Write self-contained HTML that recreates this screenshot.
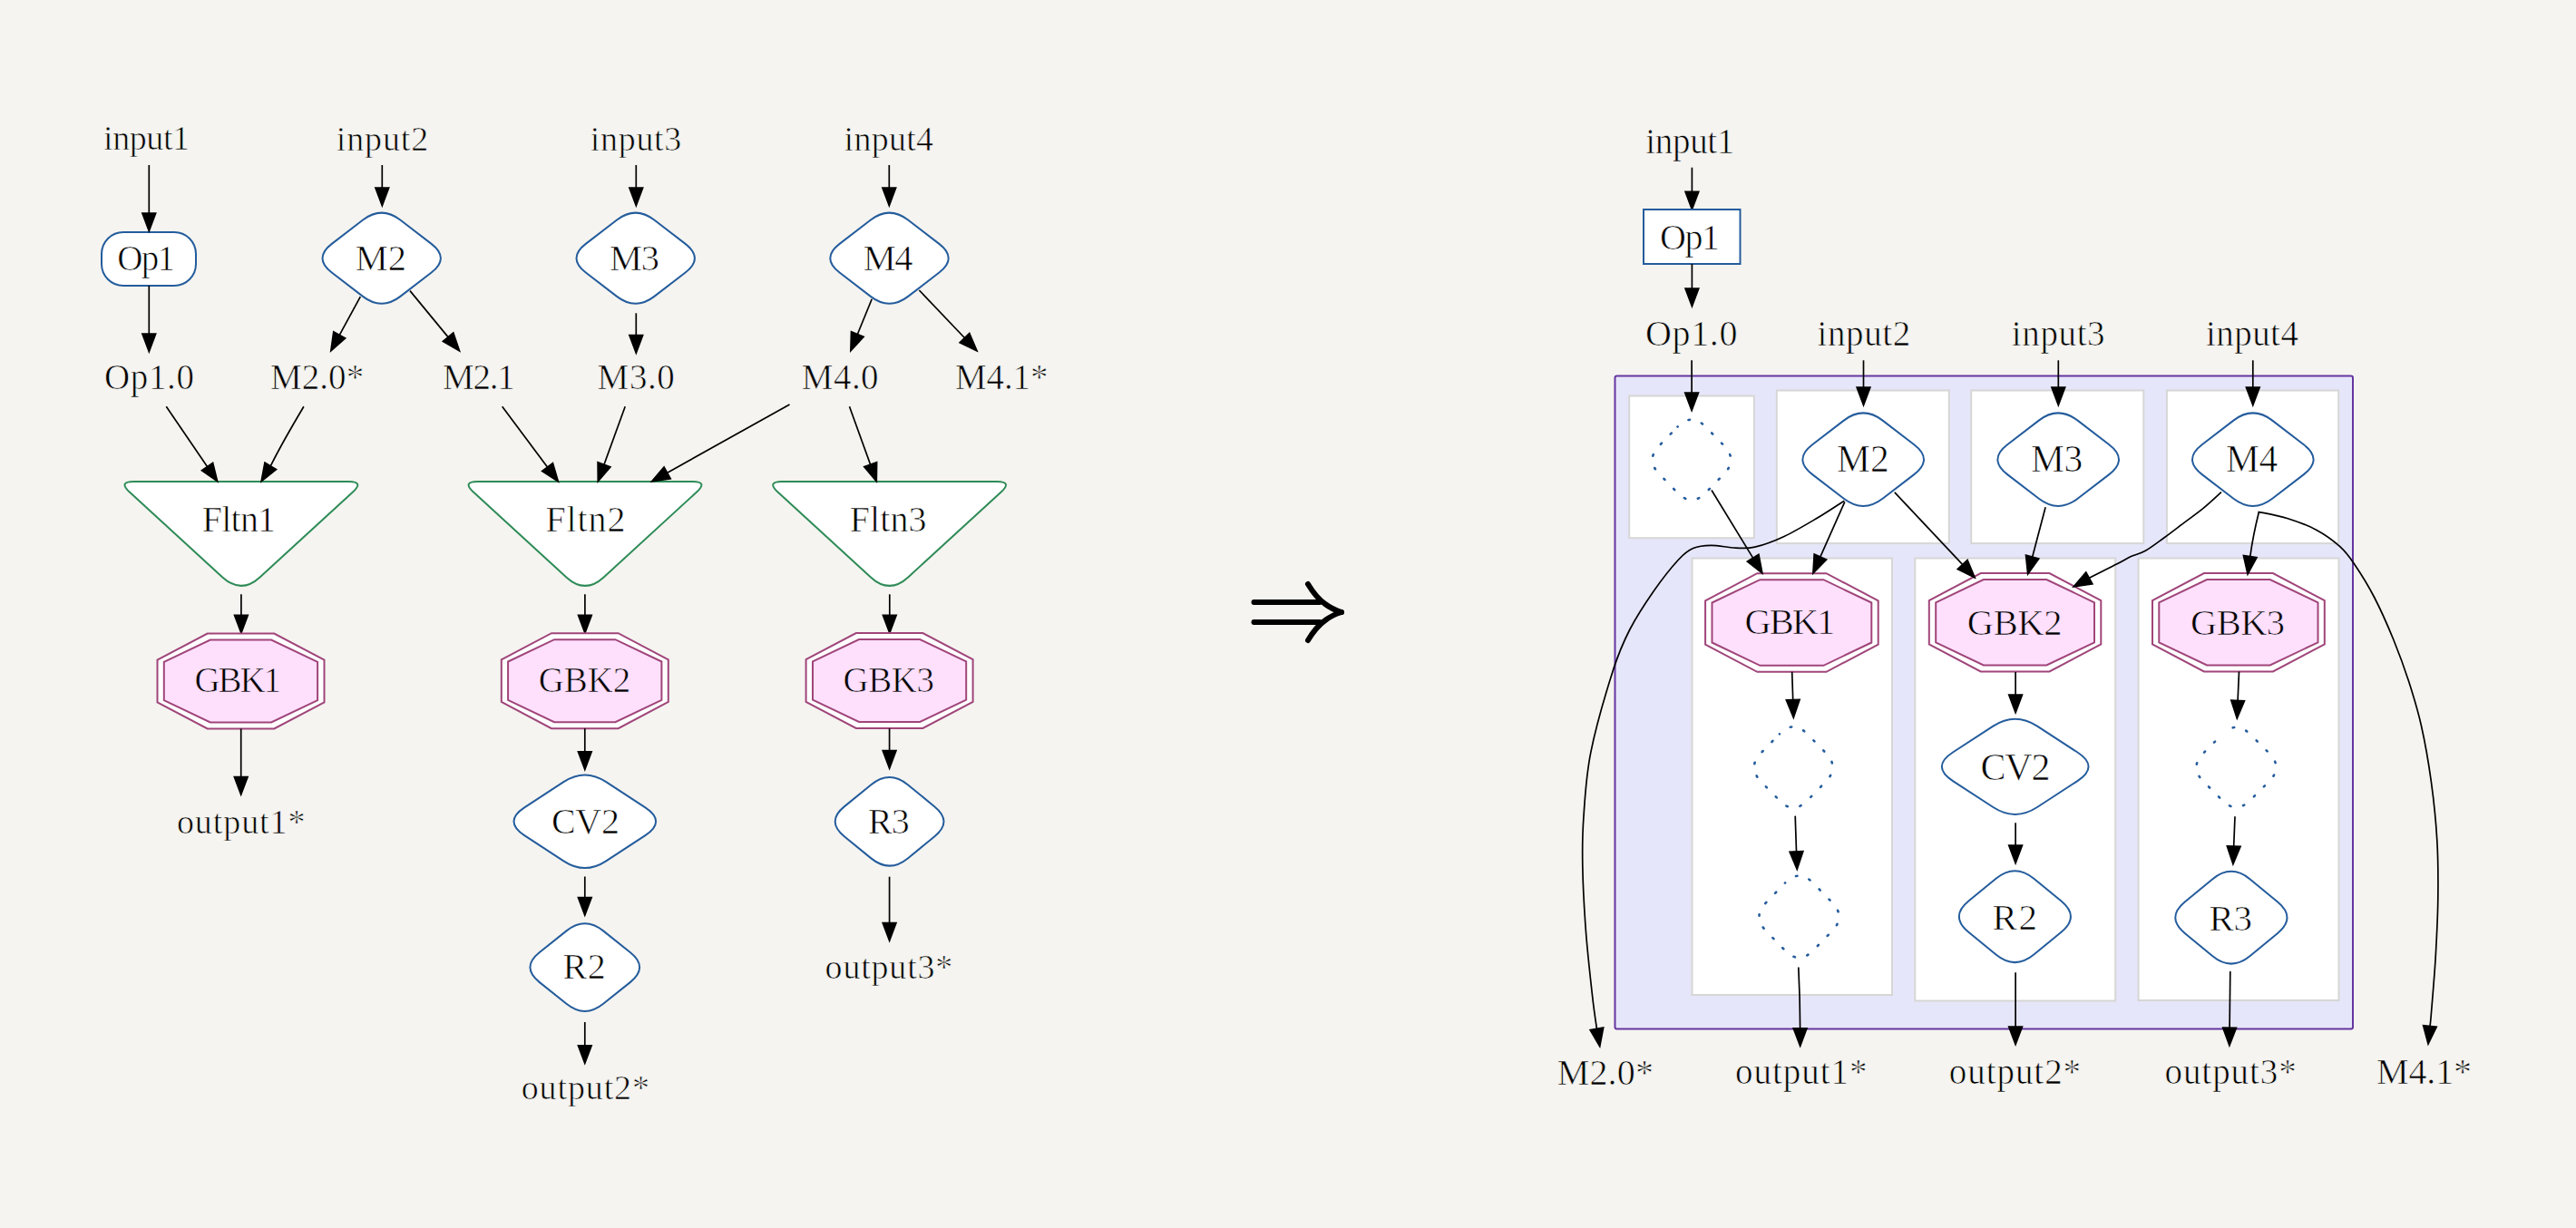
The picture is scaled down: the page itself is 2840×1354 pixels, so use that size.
<!DOCTYPE html><html><head><meta charset="utf-8"><style>html,body{margin:0;padding:0;background:#f5f4f0;}svg{display:block}</style></head><body>
<svg width="2840" height="1354" viewBox="0 0 2840 1354" font-family="Liberation Serif, serif" fill="#000">
<rect width="2840" height="1354" fill="#f5f4f0"/>
<rect x="112" y="256" width="104" height="59" rx="24" ry="24" fill="#fff" stroke="#245c9c" stroke-width="2"/>
<path d="M400.1,242.5 Q420.7,226.7 441.3,242.5 L475.6,268.9 Q496.2,284.7 475.6,300.5 L441.3,326.9 Q420.7,342.7 400.1,326.9 L365.8,300.5 Q345.2,284.7 365.8,268.9 Z" fill="#fff" stroke="#245c9c" stroke-width="2.0"/>
<path d="M680.1,242.5 Q700.7,226.7 721.3,242.5 L755.6,268.9 Q776.2,284.7 755.6,300.5 L721.3,326.9 Q700.7,342.7 680.1,326.9 L645.8,300.5 Q625.2,284.7 645.8,268.9 Z" fill="#fff" stroke="#245c9c" stroke-width="2.0"/>
<path d="M959.9,242.5 Q980.5,226.7 1001.1,242.5 L1035.4,268.9 Q1056.0,284.7 1035.4,300.5 L1001.1,326.9 Q980.5,342.7 959.9,326.9 L925.6,300.5 Q905.0,284.7 925.6,268.9 Z" fill="#fff" stroke="#245c9c" stroke-width="2.0"/>
<path d="M164.3,255.0 L156.8,235.0 L171.8,235.0 Z" fill="#000" stroke="#000" stroke-width="1.5" stroke-linejoin="miter"/>
<line x1="164.3" y1="182.0" x2="164.3" y2="235.0" stroke="#000" stroke-width="1.7"/>
<path d="M421.3,227.0 L413.8,207.0 L428.8,207.0 Z" fill="#000" stroke="#000" stroke-width="1.5" stroke-linejoin="miter"/>
<line x1="421.3" y1="182.0" x2="421.3" y2="207.0" stroke="#000" stroke-width="1.7"/>
<path d="M701.3,227.0 L693.8,207.0 L708.8,207.0 Z" fill="#000" stroke="#000" stroke-width="1.5" stroke-linejoin="miter"/>
<line x1="701.3" y1="182.0" x2="701.3" y2="207.0" stroke="#000" stroke-width="1.7"/>
<path d="M980.3,227.0 L972.8,207.0 L987.8,207.0 Z" fill="#000" stroke="#000" stroke-width="1.5" stroke-linejoin="miter"/>
<line x1="980.3" y1="182.0" x2="980.3" y2="207.0" stroke="#000" stroke-width="1.7"/>
<path d="M164.3,388.0 L156.8,368.0 L171.8,368.0 Z" fill="#000" stroke="#000" stroke-width="1.5" stroke-linejoin="miter"/>
<line x1="164.3" y1="315.0" x2="164.3" y2="368.0" stroke="#000" stroke-width="1.7"/>
<path d="M364.7,387.0 L367.7,365.8 L380.8,373.0 Z" fill="#000" stroke="#000" stroke-width="1.5" stroke-linejoin="miter"/>
<line x1="397.3" y1="327.1" x2="374.3" y2="369.4" stroke="#000" stroke-width="1.7"/>
<path d="M506.7,387.0 L488.2,376.3 L499.8,366.8 Z" fill="#000" stroke="#000" stroke-width="1.5" stroke-linejoin="miter"/>
<line x1="452.0" y1="320.6" x2="494.0" y2="371.6" stroke="#000" stroke-width="1.7"/>
<path d="M701.3,389.6 L693.8,369.6 L708.8,369.6 Z" fill="#000" stroke="#000" stroke-width="1.5" stroke-linejoin="miter"/>
<line x1="701.3" y1="345.3" x2="701.3" y2="369.6" stroke="#000" stroke-width="1.7"/>
<path d="M937.8,387.0 L938.4,365.6 L952.3,371.3 Z" fill="#000" stroke="#000" stroke-width="1.5" stroke-linejoin="miter"/>
<line x1="961.2" y1="329.7" x2="945.4" y2="368.5" stroke="#000" stroke-width="1.7"/>
<path d="M1077.2,387.0 L1058.0,377.7 L1068.8,367.3 Z" fill="#000" stroke="#000" stroke-width="1.5" stroke-linejoin="miter"/>
<line x1="1013.4" y1="320.0" x2="1063.4" y2="372.5" stroke="#000" stroke-width="1.7"/>
<path d="M142.8,542.5 Q130.3,531.0 147.3,531.0 L384.5,531.0 Q401.5,531.0 389.0,542.5 L286.5,636.4 Q265.9,655.3 245.3,636.4 Z" fill="#fff" stroke="#2e8b57" stroke-width="2"/>
<path d="M521.9,542.5 Q509.4,531.0 526.4,531.0 L763.6,531.0 Q780.6,531.0 768.1,542.5 L665.6,636.4 Q645.0,655.3 624.4,636.4 Z" fill="#fff" stroke="#2e8b57" stroke-width="2"/>
<path d="M857.5,542.5 Q845.0,531.0 862.0,531.0 L1099.2,531.0 Q1116.2,531.0 1103.7,542.5 L1001.2,636.4 Q980.6,655.3 960.0,636.4 Z" fill="#fff" stroke="#2e8b57" stroke-width="2"/>
<path d="M239.8,531.0 L222.3,518.7 L234.7,510.3 Z" fill="#000" stroke="#000" stroke-width="1.5" stroke-linejoin="miter"/>
<line x1="183.3" y1="448.2" x2="228.5" y2="514.5" stroke="#000" stroke-width="1.7"/>
<path d="M334.9,448.2 Q310,490 298.5,513.5" fill="none" stroke="#000" stroke-width="1.7"/>
<path d="M288.0,531.0 L291.9,510.0 L304.7,517.7 Z" fill="#000" stroke="#000" stroke-width="1.5" stroke-linejoin="miter"/>
<path d="M615.5,531.0 L597.5,519.5 L609.5,510.5 Z" fill="#000" stroke="#000" stroke-width="1.5" stroke-linejoin="miter"/>
<line x1="553.7" y1="448.2" x2="603.5" y2="515.0" stroke="#000" stroke-width="1.7"/>
<path d="M659.2,531.0 L659.0,509.6 L673.1,514.8 Z" fill="#000" stroke="#000" stroke-width="1.5" stroke-linejoin="miter"/>
<line x1="689.2" y1="448.2" x2="666.0" y2="512.2" stroke="#000" stroke-width="1.7"/>
<path d="M718.3,531.0 L732.1,514.7 L739.4,527.8 Z" fill="#000" stroke="#000" stroke-width="1.5" stroke-linejoin="miter"/>
<line x1="870.5" y1="446.0" x2="735.8" y2="521.2" stroke="#000" stroke-width="1.7"/>
<path d="M966.4,531.0 L952.6,514.7 L966.7,509.6 Z" fill="#000" stroke="#000" stroke-width="1.5" stroke-linejoin="miter"/>
<line x1="936.5" y1="448.2" x2="959.6" y2="512.2" stroke="#000" stroke-width="1.7"/>
<path d="M265.9,698.3 L258.4,678.3 L273.4,678.3 Z" fill="#000" stroke="#000" stroke-width="1.5" stroke-linejoin="miter"/>
<line x1="265.9" y1="655.3" x2="265.9" y2="678.3" stroke="#000" stroke-width="1.7"/>
<path d="M644.9,698.3 L637.4,678.3 L652.4,678.3 Z" fill="#000" stroke="#000" stroke-width="1.5" stroke-linejoin="miter"/>
<line x1="644.9" y1="655.3" x2="644.9" y2="678.3" stroke="#000" stroke-width="1.7"/>
<path d="M980.8,698.3 L973.3,678.3 L988.3,678.3 Z" fill="#000" stroke="#000" stroke-width="1.5" stroke-linejoin="miter"/>
<line x1="980.8" y1="655.3" x2="980.8" y2="678.3" stroke="#000" stroke-width="1.7"/>
<polygon points="228.7,698.5 302.3,698.5 357.5,727.7 357.5,774.3 302.3,803.5 228.7,803.5 173.5,774.3 173.5,727.7" fill="#fff" stroke="#a0457a" stroke-width="2"/>
<polygon points="231.8,705.5 299.1,705.5 350.1,729.8 350.1,772.2 299.1,796.5 231.8,796.5 180.8,772.2 180.8,729.8" fill="#fee0fd" stroke="#a0457a" stroke-width="2"/>
<polygon points="608.0,698.2 681.6,698.2 736.8,727.4 736.8,774.0 681.6,803.2 608.0,803.2 552.8,774.0 552.8,727.4" fill="#fff" stroke="#a0457a" stroke-width="2"/>
<polygon points="611.1,705.2 678.4,705.2 729.4,729.5 729.4,771.9 678.4,796.2 611.1,796.2 560.1,771.9 560.1,729.5" fill="#fee0fd" stroke="#a0457a" stroke-width="2"/>
<polygon points="943.8,698.0 1017.4,698.0 1072.6,727.2 1072.6,773.8 1017.4,803.0 943.8,803.0 888.6,773.8 888.6,727.2" fill="#fff" stroke="#a0457a" stroke-width="2"/>
<polygon points="947.0,705.0 1014.2,705.0 1065.2,729.3 1065.2,771.7 1014.2,796.0 947.0,796.0 896.0,771.7 896.0,729.3" fill="#fee0fd" stroke="#a0457a" stroke-width="2"/>
<path d="M265.7,876.4 L258.2,856.4 L273.2,856.4 Z" fill="#000" stroke="#000" stroke-width="1.5" stroke-linejoin="miter"/>
<line x1="265.7" y1="803.5" x2="265.7" y2="856.4" stroke="#000" stroke-width="1.7"/>
<path d="M644.8,848.8 L637.3,828.8 L652.3,828.8 Z" fill="#000" stroke="#000" stroke-width="1.5" stroke-linejoin="miter"/>
<line x1="644.8" y1="803.2" x2="644.8" y2="828.8" stroke="#000" stroke-width="1.7"/>
<path d="M621.4,862.2 Q644.8,846.8 668.2,862.2 L711.4,890.4 Q734.8,905.8 711.4,921.2 L668.2,949.4 Q644.8,964.8 621.4,949.4 L578.2,921.2 Q554.8,905.8 578.2,890.4 Z" fill="#fff" stroke="#245c9c" stroke-width="2.0"/>
<path d="M644.8,1009.4 L637.3,989.4 L652.3,989.4 Z" fill="#000" stroke="#000" stroke-width="1.5" stroke-linejoin="miter"/>
<line x1="644.8" y1="966.5" x2="644.8" y2="989.4" stroke="#000" stroke-width="1.7"/>
<path d="M624.5,1026.4 Q644.8,1010.1 665.1,1026.4 L695.0,1050.3 Q715.3,1066.6 695.0,1082.9 L665.1,1106.8 Q644.8,1123.1 624.5,1106.8 L594.6,1082.9 Q574.3,1066.6 594.6,1050.3 Z" fill="#fff" stroke="#245c9c" stroke-width="2.0"/>
<path d="M644.8,1172.7 L637.3,1152.7 L652.3,1152.7 Z" fill="#000" stroke="#000" stroke-width="1.5" stroke-linejoin="miter"/>
<line x1="644.8" y1="1127.0" x2="644.8" y2="1152.7" stroke="#000" stroke-width="1.7"/>
<path d="M980.6,847.6 L973.1,827.6 L988.1,827.6 Z" fill="#000" stroke="#000" stroke-width="1.5" stroke-linejoin="miter"/>
<line x1="980.6" y1="803.2" x2="980.6" y2="827.6" stroke="#000" stroke-width="1.7"/>
<path d="M960.4,865.2 Q980.6,848.8 1000.8,865.2 L1030.4,889.4 Q1050.6,905.8 1030.4,922.2 L1000.8,946.4 Q980.6,962.8 960.4,946.4 L930.8,922.2 Q910.6,905.8 930.8,889.4 Z" fill="#fff" stroke="#245c9c" stroke-width="2.0"/>
<path d="M980.6,1037.5 L973.1,1017.5 L988.1,1017.5 Z" fill="#000" stroke="#000" stroke-width="1.5" stroke-linejoin="miter"/>
<line x1="980.6" y1="966.7" x2="980.6" y2="1017.5" stroke="#000" stroke-width="1.7"/>
<g stroke="#000" stroke-width="6" stroke-linecap="round" fill="none">
<path d="M1382.5,664 L1455,664 M1382.5,686 L1455,686"/>
<path d="M1442,644 Q1451,659 1461,666 Q1469,672 1479,675"/>
<path d="M1442,706 Q1451,691 1461,684 Q1469,678 1479,675"/>
</g>
<path d="M1865.4,231.2 L1857.9,211.2 L1872.9,211.2 Z" fill="#000" stroke="#000" stroke-width="1.5" stroke-linejoin="miter"/>
<line x1="1865.4" y1="184.7" x2="1865.4" y2="211.2" stroke="#000" stroke-width="1.7"/>
<rect x="1812" y="231" width="106.5" height="60" fill="#fff" stroke="#245c9c" stroke-width="2"/>
<path d="M1865.4,338.0 L1857.9,318.0 L1872.9,318.0 Z" fill="#000" stroke="#000" stroke-width="1.5" stroke-linejoin="miter"/>
<line x1="1865.4" y1="291.0" x2="1865.4" y2="318.0" stroke="#000" stroke-width="1.7"/>
<rect x="1780.5" y="414.5" width="813.5" height="720" rx="2" fill="#e6e6fa" stroke="#6536a0" stroke-width="2"/>
<rect x="1796.2" y="436.5" width="137.7" height="156.7" fill="#fff" stroke="#d6d6d6" stroke-width="2"/>
<rect x="1958.8" y="430.5" width="190.0" height="168.6" fill="#fff" stroke="#d6d6d6" stroke-width="2"/>
<rect x="2173.2" y="430.5" width="190.1" height="168.6" fill="#fff" stroke="#d6d6d6" stroke-width="2"/>
<rect x="2388.9" y="430.5" width="189.3" height="168.6" fill="#fff" stroke="#d6d6d6" stroke-width="2"/>
<rect x="1865.5" y="615.5" width="220.5" height="481.5" fill="#fff" stroke="#d6d6d6" stroke-width="2"/>
<rect x="2111.3" y="615.5" width="220.9" height="488.0" fill="#fff" stroke="#d6d6d6" stroke-width="2"/>
<rect x="2357.6" y="615.5" width="220.9" height="487.5" fill="#fff" stroke="#d6d6d6" stroke-width="2"/>
<path d="M1865.1,452.9 L1857.6,432.9 L1872.6,432.9 Z" fill="#000" stroke="#000" stroke-width="1.5" stroke-linejoin="miter"/>
<line x1="1865.1" y1="397.3" x2="1865.1" y2="432.9" stroke="#000" stroke-width="1.7"/>
<path d="M2054.5,447.0 L2047.0,427.0 L2062.0,427.0 Z" fill="#000" stroke="#000" stroke-width="1.5" stroke-linejoin="miter"/>
<line x1="2054.5" y1="397.3" x2="2054.5" y2="427.0" stroke="#000" stroke-width="1.7"/>
<path d="M2269.3,447.0 L2261.8,427.0 L2276.8,427.0 Z" fill="#000" stroke="#000" stroke-width="1.5" stroke-linejoin="miter"/>
<line x1="2269.3" y1="397.3" x2="2269.3" y2="427.0" stroke="#000" stroke-width="1.7"/>
<path d="M2483.8,447.0 L2476.3,427.0 L2491.3,427.0 Z" fill="#000" stroke="#000" stroke-width="1.5" stroke-linejoin="miter"/>
<line x1="2483.8" y1="397.3" x2="2483.8" y2="427.0" stroke="#000" stroke-width="1.7"/>
<path d="M1849.6,470.5 Q1865.0,454.8 1880.4,470.5 L1900.6,491.3 Q1916.0,507.0 1900.6,522.7 L1880.4,543.5 Q1865.0,559.2 1849.6,543.5 L1829.4,522.7 Q1814.0,507.0 1829.4,491.3 Z" fill="#fff" stroke="#245c9c" stroke-width="2.6" stroke-dasharray="1.5,14" stroke-linecap="round" stroke-dashoffset="16.99"/>
<path d="M1961.9,809.3 Q1977.2,793.5 1992.5,809.3 L2012.9,830.2 Q2028.2,846.0 2012.9,861.8 L1992.5,882.7 Q1977.2,898.5 1961.9,882.7 L1941.5,861.8 Q1926.2,846.0 1941.5,830.2 Z" fill="#fff" stroke="#245c9c" stroke-width="2.6" stroke-dasharray="1.5,14" stroke-linecap="round" stroke-dashoffset="16.97"/>
<path d="M1968.1,973.5 Q1983.5,957.8 1998.9,973.5 L2019.9,995.1 Q2035.2,1010.8 2019.9,1026.5 L1998.9,1048.1 Q1983.5,1063.8 1968.1,1048.1 L1947.1,1026.5 Q1931.8,1010.8 1947.1,995.1 Z" fill="#fff" stroke="#245c9c" stroke-width="2.6" stroke-dasharray="1.5,14" stroke-linecap="round" stroke-dashoffset="16.99"/>
<path d="M2449.9,809.7 Q2465.4,794.1 2480.9,809.7 L2501.6,830.4 Q2517.2,846.0 2501.6,861.6 L2480.9,882.3 Q2465.4,897.9 2449.9,882.3 L2429.2,861.6 Q2413.7,846.0 2429.2,830.4 Z" fill="#fff" stroke="#245c9c" stroke-width="2.6" stroke-dasharray="1.5,14" stroke-linecap="round" stroke-dashoffset="17.10"/>
<path d="M2032.8,463.6 Q2054.2,447.2 2075.6,463.6 L2110.3,490.3 Q2131.7,506.7 2110.3,523.1 L2075.6,549.8 Q2054.2,566.2 2032.8,549.8 L1998.1,523.1 Q1976.7,506.7 1998.1,490.3 Z" fill="#fff" stroke="#245c9c" stroke-width="2.0"/>
<path d="M2247.8,463.6 Q2269.2,447.2 2290.6,463.6 L2325.3,490.3 Q2346.7,506.7 2325.3,523.1 L2290.6,549.8 Q2269.2,566.2 2247.8,549.8 L2213.1,523.1 Q2191.7,506.7 2213.1,490.3 Z" fill="#fff" stroke="#245c9c" stroke-width="2.0"/>
<path d="M2462.4,463.6 Q2483.8,447.2 2505.2,463.6 L2539.9,490.3 Q2561.3,506.7 2539.9,523.1 L2505.2,549.8 Q2483.8,566.2 2462.4,549.8 L2427.7,523.1 Q2406.3,506.7 2427.7,490.3 Z" fill="#fff" stroke="#245c9c" stroke-width="2.0"/>
<polygon points="1937.3,632.2 2013.5,632.2 2070.7,662.4 2070.7,710.6 2013.5,740.8 1937.3,740.8 1880.1,710.6 1880.1,662.4" fill="#fff" stroke="#a0457a" stroke-width="2"/>
<polygon points="1940.4,639.2 2010.4,639.2 2063.3,664.5 2063.3,708.5 2010.4,733.8 1940.4,733.8 1887.5,708.5 1887.5,664.5" fill="#fee0fd" stroke="#a0457a" stroke-width="2"/>
<polygon points="2183.7,632.0 2259.5,632.0 2316.3,662.2 2316.3,710.4 2259.5,740.5 2183.7,740.5 2126.8,710.4 2126.8,662.2" fill="#fff" stroke="#a0457a" stroke-width="2"/>
<polygon points="2186.8,639.0 2256.3,639.0 2309.0,664.3 2309.0,708.3 2256.3,733.5 2186.8,733.5 2134.2,708.3 2134.2,664.3" fill="#fee0fd" stroke="#a0457a" stroke-width="2"/>
<polygon points="2429.9,632.0 2505.9,632.0 2562.8,662.2 2562.8,710.4 2505.9,740.5 2429.9,740.5 2373.0,710.4 2373.0,662.2" fill="#fff" stroke="#a0457a" stroke-width="2"/>
<polygon points="2433.1,639.0 2502.7,639.0 2555.5,664.3 2555.5,708.3 2502.7,733.5 2433.1,733.5 2380.3,708.3 2380.3,664.3" fill="#fee0fd" stroke="#a0457a" stroke-width="2"/>
<path d="M2197.4,800.6 Q2221.7,784.8 2246.0,800.6 L2290.4,829.5 Q2314.7,845.3 2290.4,861.1 L2246.0,890.0 Q2221.7,905.8 2197.4,890.0 L2153.0,861.1 Q2128.7,845.3 2153.0,829.5 Z" fill="#fff" stroke="#245c9c" stroke-width="2.0"/>
<path d="M2200.5,968.8 Q2221.4,951.7 2242.3,968.8 L2272.5,993.6 Q2293.4,1010.7 2272.5,1027.8 L2242.3,1052.6 Q2221.4,1069.7 2200.5,1052.6 L2170.3,1027.8 Q2149.4,1010.7 2170.3,993.6 Z" fill="#fff" stroke="#245c9c" stroke-width="2.0"/>
<path d="M2439.1,969.4 Q2459.9,952.2 2480.7,969.4 L2511.1,994.5 Q2531.9,1011.7 2511.1,1028.9 L2480.7,1054.0 Q2459.9,1071.2 2439.1,1054.0 L2408.7,1028.9 Q2387.9,1011.7 2408.7,994.5 Z" fill="#fff" stroke="#245c9c" stroke-width="2.0"/>
<path d="M1943.0,632.2 L1926.2,619.0 L1939.0,611.2 Z" fill="#000" stroke="#000" stroke-width="1.5" stroke-linejoin="miter"/>
<line x1="1887.0" y1="540.5" x2="1932.6" y2="615.1" stroke="#000" stroke-width="1.7"/>
<path d="M1998.8,632.2 L2000.1,610.9 L2013.8,617.0 Z" fill="#000" stroke="#000" stroke-width="1.5" stroke-linejoin="miter"/>
<line x1="2033.8" y1="553.4" x2="2006.9" y2="613.9" stroke="#000" stroke-width="1.7"/>
<path d="M2177.3,637.0 L2158.1,627.6 L2169.1,617.3 Z" fill="#000" stroke="#000" stroke-width="1.5" stroke-linejoin="miter"/>
<line x1="2088.8" y1="542.9" x2="2163.6" y2="622.4" stroke="#000" stroke-width="1.7"/>
<path d="M2235.6,633.3 L2233.4,612.0 L2247.9,615.9 Z" fill="#000" stroke="#000" stroke-width="1.5" stroke-linejoin="miter"/>
<line x1="2255.1" y1="559.3" x2="2240.7" y2="614.0" stroke="#000" stroke-width="1.7"/>
<path d="M2448.9,542.7 C2445.6,545.7 2435.7,555.1 2428.8,560.7 C2421.9,566.4 2414.7,571.3 2407.6,576.6 C2400.5,581.9 2393.6,587.4 2386.5,592.5 C2379.4,597.6 2371.5,603.8 2365.3,607.3 C2359.1,610.8 2354.7,611.1 2349.4,613.6 C2344.1,616.1 2341.2,618.1 2333.5,622.1 C2325.8,626.1 2308.4,634.8 2303.4,637.3" fill="none" stroke="#000" stroke-width="1.7"/>
<path d="M2285.9,647.0 L2299.8,630.8 L2307.0,643.9 Z" fill="#000" stroke="#000" stroke-width="1.5" stroke-linejoin="miter"/>
<path d="M2490.3,565 Q2484,590 2480.8,613.3" fill="none" stroke="#000" stroke-width="1.7"/>
<path d="M2478.0,633.3 L2473.3,612.5 L2488.2,614.5 Z" fill="#000" stroke="#000" stroke-width="1.5" stroke-linejoin="miter"/>
<path d="M2033.3,552.2 C2028.2,555.4 2014.0,565.0 2002.9,571.5 C1991.9,578.0 1978.3,586.2 1967.0,591.5 C1955.7,596.8 1943.8,601.1 1934.8,603.2 C1925.8,605.3 1921.4,604.4 1913.3,604.1 C1905.2,603.8 1894.2,601.2 1886.4,601.3 C1878.6,601.4 1872.7,601.9 1866.7,604.5 C1860.7,607.1 1857.8,609.2 1850.6,617.0 C1843.4,624.8 1832.7,638.2 1823.7,651.0 C1814.8,663.8 1804.5,679.2 1796.9,694.0 C1789.3,708.8 1785.3,717.4 1778.1,740.0 C1770.9,762.6 1759.2,802.7 1753.8,829.6 C1748.4,856.5 1747.4,880.4 1745.9,901.3 C1744.4,922.2 1744.4,934.1 1744.8,955.0 C1745.2,975.9 1746.6,1002.8 1748.4,1026.7 C1750.2,1050.6 1753.6,1080.5 1755.6,1098.4 C1757.6,1116.3 1759.6,1128.3 1760.4,1134.3" fill="none" stroke="#000" stroke-width="1.7"/>
<path d="M1763.8,1154.0 L1753.0,1135.6 L1767.8,1133.0 Z" fill="#000" stroke="#000" stroke-width="1.5" stroke-linejoin="miter"/>
<path d="M2489.5,564.3 C2495.0,565.5 2511.6,568.4 2522.3,571.7 C2533.1,575.1 2544.5,579.3 2554.0,584.4 C2563.5,589.5 2572.6,596.2 2579.5,602.4 C2586.4,608.6 2589.0,612.1 2595.3,621.5 C2601.7,630.9 2610.4,644.6 2617.6,658.5 C2624.8,672.4 2632.3,689.5 2638.7,705.0 C2645.0,720.5 2650.6,735.8 2655.7,751.6 C2660.8,767.4 2665.3,781.7 2669.4,800.0 C2673.5,818.3 2677.4,840.3 2680.3,861.4 C2683.2,882.5 2685.6,904.9 2686.8,926.6 C2688.1,948.3 2688.1,970.0 2687.8,991.7 C2687.5,1013.4 2686.3,1035.7 2685.1,1056.9 C2683.8,1078.1 2681.3,1106.4 2680.3,1118.8 C2679.3,1131.2 2679.2,1129.3 2679.0,1131.4" fill="none" stroke="#000" stroke-width="1.7"/>
<path d="M2677.0,1151.3 L2671.5,1130.7 L2686.4,1132.1 Z" fill="#000" stroke="#000" stroke-width="1.5" stroke-linejoin="miter"/>
<path d="M1977.3,791.5 L1969.2,771.7 L1984.2,771.3 Z" fill="#000" stroke="#000" stroke-width="1.5" stroke-linejoin="miter"/>
<line x1="1975.7" y1="740.7" x2="1976.7" y2="771.5" stroke="#000" stroke-width="1.7"/>
<path d="M1981.2,958.8 L1973.0,939.1 L1988.0,938.6 Z" fill="#000" stroke="#000" stroke-width="1.5" stroke-linejoin="miter"/>
<line x1="1979.2" y1="899.6" x2="1980.5" y2="938.8" stroke="#000" stroke-width="1.7"/>
<path d="M1982.8,1066.5 Q1984.5,1100 1984.6,1133.7" fill="none" stroke="#000" stroke-width="1.7"/>
<path d="M1984.7,1153.7 L1977.1,1133.7 L1992.1,1133.7 Z" fill="#000" stroke="#000" stroke-width="1.5" stroke-linejoin="miter"/>
<path d="M2222.1,786.0 L2214.6,766.0 L2229.6,766.0 Z" fill="#000" stroke="#000" stroke-width="1.5" stroke-linejoin="miter"/>
<line x1="2222.1" y1="741.0" x2="2222.1" y2="766.0" stroke="#000" stroke-width="1.7"/>
<path d="M2222.1,952.0 L2214.6,932.0 L2229.6,932.0 Z" fill="#000" stroke="#000" stroke-width="1.5" stroke-linejoin="miter"/>
<line x1="2222.1" y1="907.2" x2="2222.1" y2="932.0" stroke="#000" stroke-width="1.7"/>
<path d="M2222.1,1151.9 L2214.6,1131.9 L2229.6,1131.9 Z" fill="#000" stroke="#000" stroke-width="1.5" stroke-linejoin="miter"/>
<line x1="2222.1" y1="1072.2" x2="2222.1" y2="1131.9" stroke="#000" stroke-width="1.7"/>
<path d="M2466.3,792.4 L2459.7,772.1 L2474.6,772.7 Z" fill="#000" stroke="#000" stroke-width="1.5" stroke-linejoin="miter"/>
<line x1="2468.5" y1="740.5" x2="2467.1" y2="772.4" stroke="#000" stroke-width="1.7"/>
<path d="M2461.9,953.0 L2455.2,932.7 L2470.2,933.3 Z" fill="#000" stroke="#000" stroke-width="1.5" stroke-linejoin="miter"/>
<line x1="2464.0" y1="900.2" x2="2462.7" y2="933.0" stroke="#000" stroke-width="1.7"/>
<path d="M2457.9,1153.1 L2450.6,1133.0 L2465.6,1133.2 Z" fill="#000" stroke="#000" stroke-width="1.5" stroke-linejoin="miter"/>
<line x1="2458.8" y1="1070.9" x2="2458.1" y2="1133.1" stroke="#000" stroke-width="1.7"/>
<text x="114.0" y="165.3" font-size="38.0" textLength="95.1" lengthAdjust="spacing" stroke="#f5f4f0" stroke-width="0.7">input1</text>
<text x="370.8" y="166.2" font-size="38.0" textLength="101.5" lengthAdjust="spacing" stroke="#f5f4f0" stroke-width="0.7">input2</text>
<text x="650.8" y="166.2" font-size="38.0" textLength="100.5" lengthAdjust="spacing" stroke="#f5f4f0" stroke-width="0.7">input3</text>
<text x="930.6" y="166.2" font-size="38.0" textLength="98.5" lengthAdjust="spacing" stroke="#f5f4f0" stroke-width="0.7">input4</text>
<text x="129.3" y="297.8" font-size="39.0" textLength="63.8" lengthAdjust="spacing" stroke="#fff" stroke-width="0.7">Op1</text>
<text x="391.7" y="297.9" font-size="40.5" textLength="56.4" lengthAdjust="spacing" stroke="#fff" stroke-width="0.7">M2</text>
<text x="671.9" y="298.3" font-size="40.5" textLength="55.1" lengthAdjust="spacing" stroke="#fff" stroke-width="0.7">M3</text>
<text x="951.8" y="298.3" font-size="40.5" textLength="54.8" lengthAdjust="spacing" stroke="#fff" stroke-width="0.7">M4</text>
<text x="115.0" y="429.2" font-size="39.0" textLength="98.9" lengthAdjust="spacing" stroke="#f5f4f0" stroke-width="0.7">Op1.0</text>
<text x="297.9" y="429.2" font-size="39.0" textLength="103.3" lengthAdjust="spacing" stroke="#f5f4f0" stroke-width="0.7">M2.0*</text>
<text x="488.0" y="429.0" font-size="39.0" textLength="79.7" lengthAdjust="spacing" stroke="#f5f4f0" stroke-width="0.7">M2.1</text>
<text x="658.6" y="429.0" font-size="39.0" textLength="85.2" lengthAdjust="spacing" stroke="#f5f4f0" stroke-width="0.7">M3.0</text>
<text x="883.8" y="429.0" font-size="39.0" textLength="84.8" lengthAdjust="spacing" stroke="#f5f4f0" stroke-width="0.7">M4.0</text>
<text x="1053.0" y="429.0" font-size="39.0" textLength="102.4" lengthAdjust="spacing" stroke="#f5f4f0" stroke-width="0.7">M4.1*</text>
<text x="222.7" y="585.5" font-size="40.0" textLength="81.4" lengthAdjust="spacing" stroke="#fff" stroke-width="0.7">Fltn1</text>
<text x="601.4" y="585.5" font-size="40.0" textLength="88.1" lengthAdjust="spacing" stroke="#fff" stroke-width="0.7">Fltn2</text>
<text x="936.8" y="585.5" font-size="40.0" textLength="84.6" lengthAdjust="spacing" stroke="#fff" stroke-width="0.7">Fltn3</text>
<text x="214.4" y="763.0" font-size="39.0" textLength="95.7" lengthAdjust="spacing" stroke="#fee0fd" stroke-width="0.7">GBK1</text>
<text x="593.7" y="763.0" font-size="39.0" textLength="101.5" lengthAdjust="spacing" stroke="#fee0fd" stroke-width="0.7">GBK2</text>
<text x="929.4" y="763.0" font-size="39.0" textLength="100.6" lengthAdjust="spacing" stroke="#fee0fd" stroke-width="0.7">GBK3</text>
<text x="194.9" y="918.7" font-size="38.0" textLength="141.6" lengthAdjust="spacing" stroke="#f5f4f0" stroke-width="0.7">output1*</text>
<text x="607.9" y="918.7" font-size="40.0" textLength="75.1" lengthAdjust="spacing" stroke="#fff" stroke-width="0.7">CV2</text>
<text x="620.4" y="1079.4" font-size="40.0" textLength="47.3" lengthAdjust="spacing" stroke="#fff" stroke-width="0.7">R2</text>
<text x="574.7" y="1211.5" font-size="38.0" textLength="141.3" lengthAdjust="spacing" stroke="#f5f4f0" stroke-width="0.7">output2*</text>
<text x="957.1" y="918.7" font-size="40.0" textLength="45.7" lengthAdjust="spacing" stroke="#fff" stroke-width="0.7">R3</text>
<text x="909.6" y="1078.8" font-size="38.0" textLength="140.7" lengthAdjust="spacing" stroke="#f5f4f0" stroke-width="0.7">output3*</text>
<text x="1814.3" y="168.6" font-size="39.0" textLength="98.0" lengthAdjust="spacing" stroke="#f5f4f0" stroke-width="0.7">input1</text>
<text x="1829.9" y="274.6" font-size="40.0" textLength="66.2" lengthAdjust="spacing" stroke="#fff" stroke-width="0.7">Op1</text>
<text x="1814.0" y="381.2" font-size="40.0" textLength="101.4" lengthAdjust="spacing" stroke="#f5f4f0" stroke-width="0.7">Op1.0</text>
<text x="2003.5" y="381.2" font-size="39.0" textLength="102.8" lengthAdjust="spacing" stroke="#f5f4f0" stroke-width="0.7">input2</text>
<text x="2217.8" y="381.2" font-size="39.0" textLength="102.8" lengthAdjust="spacing" stroke="#f5f4f0" stroke-width="0.7">input3</text>
<text x="2432.0" y="381.2" font-size="39.0" textLength="101.9" lengthAdjust="spacing" stroke="#f5f4f0" stroke-width="0.7">input4</text>
<text x="2025.1" y="520.3" font-size="41.5" textLength="57.7" lengthAdjust="spacing" stroke="#fff" stroke-width="0.7">M2</text>
<text x="2239.1" y="520.3" font-size="41.5" textLength="57.2" lengthAdjust="spacing" stroke="#fff" stroke-width="0.7">M3</text>
<text x="2454.1" y="520.3" font-size="41.5" textLength="57.2" lengthAdjust="spacing" stroke="#fff" stroke-width="0.7">M4</text>
<text x="1923.5" y="699.2" font-size="40.5" textLength="99.7" lengthAdjust="spacing" stroke="#fee0fd" stroke-width="0.7">GBK1</text>
<text x="2168.7" y="699.5" font-size="40.5" textLength="104.8" lengthAdjust="spacing" stroke="#fee0fd" stroke-width="0.7">GBK2</text>
<text x="2415.0" y="699.5" font-size="40.5" textLength="104.1" lengthAdjust="spacing" stroke="#fee0fd" stroke-width="0.7">GBK3</text>
<text x="2183.4" y="859.8" font-size="42.0" textLength="77.0" lengthAdjust="spacing" stroke="#fff" stroke-width="0.7">CV2</text>
<text x="2196.4" y="1025.2" font-size="41.0" textLength="49.5" lengthAdjust="spacing" stroke="#fff" stroke-width="0.7">R2</text>
<text x="2435.5" y="1025.8" font-size="41.0" textLength="47.6" lengthAdjust="spacing" stroke="#fff" stroke-width="0.7">R3</text>
<text x="1716.7" y="1196.0" font-size="40.0" textLength="106.2" lengthAdjust="spacing" stroke="#f5f4f0" stroke-width="0.7">M2.0*</text>
<text x="1912.9" y="1195.3" font-size="39.0" textLength="145.6" lengthAdjust="spacing" stroke="#f5f4f0" stroke-width="0.7">output1*</text>
<text x="2148.8" y="1195.0" font-size="39.0" textLength="145.3" lengthAdjust="spacing" stroke="#f5f4f0" stroke-width="0.7">output2*</text>
<text x="2386.5" y="1195.0" font-size="39.0" textLength="145.2" lengthAdjust="spacing" stroke="#f5f4f0" stroke-width="0.7">output3*</text>
<text x="2619.9" y="1194.8" font-size="40.0" textLength="105.2" lengthAdjust="spacing" stroke="#f5f4f0" stroke-width="0.7">M4.1*</text>
</svg></body></html>
